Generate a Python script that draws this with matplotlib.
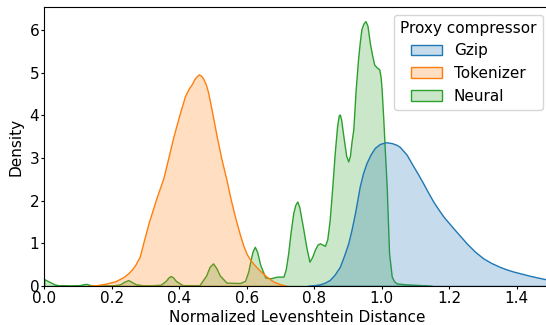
import matplotlib
matplotlib.use('Agg')
import matplotlib.pyplot as plt
from matplotlib.colors import to_rgba
from matplotlib.patches import Patch

# Density estimates of the normalized Levenshtein distance per proxy compressor
gzip_x = [0.78, 0.80, 0.817, 0.832, 0.846, 0.861, 0.876, 0.888, 0.901, 0.911,
          0.921, 0.935, 0.945, 0.955, 0.967, 0.980, 0.995, 1.012, 1.030, 1.044,
          1.054, 1.074, 1.093, 1.108, 1.123, 1.138, 1.153, 1.168, 1.183, 1.198,
          1.212, 1.232, 1.252, 1.276, 1.301, 1.325, 1.350, 1.370, 1.390, 1.415,
          1.439, 1.462, 1.486, 1.52]
gzip_y = [0.0, 0.02, 0.04, 0.08, 0.14, 0.27, 0.45, 0.70, 1.0, 1.33,
          1.71, 2.33, 2.65, 2.88, 3.08, 3.24, 3.33, 3.37, 3.35, 3.31,
          3.26, 3.08, 2.82, 2.62, 2.41, 2.19, 1.98, 1.80, 1.63, 1.49,
          1.36, 1.18, 1.0, 0.81, 0.65, 0.54, 0.45, 0.39, 0.34, 0.29,
          0.24, 0.20, 0.16, 0.12]

tok_x = [0.13, 0.155, 0.18, 0.195, 0.21, 0.22, 0.235, 0.249, 0.26, 0.27,
         0.283, 0.293, 0.31, 0.322, 0.334, 0.353, 0.368, 0.383, 0.40, 0.417,
         0.427, 0.437, 0.445, 0.452, 0.458, 0.465, 0.472, 0.479, 0.486, 0.498,
         0.511, 0.525, 0.540, 0.552, 0.565, 0.58, 0.59, 0.60, 0.61, 0.62,
         0.639, 0.659, 0.68, 0.70, 0.72]
tok_y = [0.0, 0.02, 0.05, 0.08, 0.11, 0.15, 0.21, 0.30, 0.39, 0.50,
         0.69, 1.0, 1.5, 1.8, 2.1, 2.53, 3.02, 3.51, 4.0, 4.45,
         4.61, 4.73, 4.85, 4.92, 4.96, 4.93, 4.85, 4.72, 4.53, 4.05,
         3.51, 2.98, 2.49, 2.05, 1.63, 1.20, 0.95, 0.75, 0.62, 0.52,
         0.36, 0.22, 0.10, 0.04, 0.0]

neu_x = [0.0, 0.01, 0.02, 0.03, 0.04, 0.08, 0.105, 0.115, 0.124, 0.133,
         0.145, 0.2, 0.225, 0.237, 0.249, 0.26, 0.272, 0.30, 0.345, 0.36,
         0.368, 0.375, 0.382, 0.39, 0.41, 0.46, 0.48, 0.49, 0.50, 0.51,
         0.52, 0.54, 0.58, 0.595, 0.605, 0.61, 0.617, 0.624, 0.631, 0.64,
         0.655, 0.67, 0.69, 0.709, 0.716, 0.723, 0.730, 0.738, 0.744, 0.750,
         0.756, 0.768, 0.777, 0.786, 0.794, 0.802, 0.81, 0.817, 0.825, 0.832,
         0.839, 0.846, 0.854, 0.861, 0.868, 0.873, 0.876, 0.880, 0.888, 0.895,
         0.901, 0.906, 0.911, 0.916, 0.923, 0.930, 0.935, 0.940, 0.946, 0.952,
         0.958, 0.965, 0.972, 0.978, 0.986, 0.993, 0.997, 1.000, 1.005, 1.010,
         1.015, 1.022, 1.030, 1.037, 1.045, 1.07, 1.12, 1.15]
neu_y = [0.16, 0.12, 0.08, 0.04, 0.02, 0.01, 0.02, 0.04, 0.05, 0.03,
         0.01, 0.01, 0.04, 0.10, 0.14, 0.09, 0.04, 0.01, 0.03, 0.12,
         0.20, 0.235, 0.20, 0.12, 0.02, 0.02, 0.25, 0.45, 0.53, 0.42,
         0.25, 0.08, 0.07, 0.12, 0.35, 0.55, 0.80, 0.92, 0.80, 0.50,
         0.20, 0.18, 0.22, 0.22, 0.40, 0.77, 1.25, 1.71, 1.90, 1.98,
         1.85, 1.32, 0.90, 0.57, 0.68, 0.85, 0.97, 1.0, 0.97, 0.94,
         1.10, 1.55, 2.35, 3.12, 3.75, 4.00, 4.02, 3.90, 3.43, 3.05,
         2.92, 3.05, 3.40, 3.67, 4.60, 5.31, 5.70, 6.02, 6.15, 6.21,
         6.10, 5.70, 5.40, 5.19, 5.12, 5.08, 4.90, 4.61, 3.90, 3.10,
         2.33, 0.77, 0.22, 0.11, 0.06, 0.04, 0.02, 0.0]

series = [("Gzip", gzip_x, gzip_y, "tab:blue"),
          ("Tokenizer", tok_x, tok_y, "tab:orange"),
          ("Neural", neu_x, neu_y, "tab:green")]

plt.rcParams.update({
    "font.family": "DejaVu Sans",
    "font.size": 11,
    "xtick.major.size": 2.5,
    "ytick.major.size": 2.5,
    "xtick.major.pad": 1.2,
    "ytick.major.pad": 1.2,
})

fig = plt.figure(figsize=(5.46, 3.25), dpi=100)
ax = fig.add_axes([44.3 / 546, 39 / 325, 506 / 546, 279 / 325])

for name, xs, ys, c in reversed(series):
    ax.fill_between(xs, 0, ys, facecolor=to_rgba(c, 0.25), edgecolor=c, lw=1)
handles = [Patch(facecolor=to_rgba(c, 0.25), edgecolor=c, label=name)
           for name, xs, ys, c in series]

ax.set_xlim(0, 1.5)
ax.set_ylim(0, 6.54)
ax.set_xticks([0.0, 0.2, 0.4, 0.6, 0.8, 1.0, 1.2, 1.4])
ax.set_xlabel("Normalized Levenshtein Distance", labelpad=3)
ax.set_ylabel("Density", labelpad=4)
ax.legend(handles=handles, title="Proxy compressor", loc="upper right",
          title_fontsize=11, fontsize=11)

fig.savefig("out.png", dpi=100)
